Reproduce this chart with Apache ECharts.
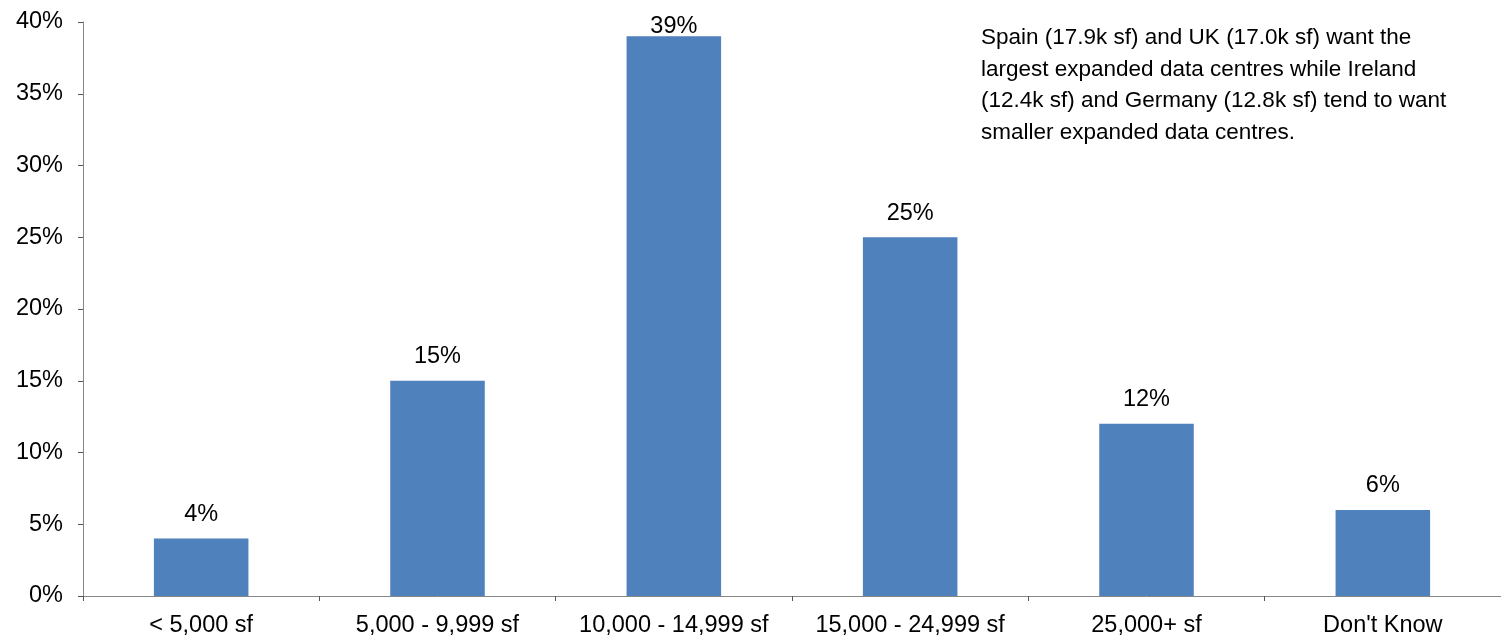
<!DOCTYPE html>
<html>
<head>
<meta charset="utf-8">
<script src="https://cdn.jsdelivr.net/npm/echarts@6/dist/echarts.min.js"></script>
<style>
  html, body { margin: 0; padding: 0; background: #fff; }
  #chart { width: 1501px; height: 635px; }
</style>
</head>
<body>
<div id="chart"></div>
<script>
const categories = ['< 5,000 sf', '5,000 - 9,999 sf', '10,000 - 14,999 sf', '15,000 - 24,999 sf', '25,000+ sf', "Don't Know"]
const shares = [4, 15, 39, 25, 12, 6]
const yTicks = [0, 5, 10, 15, 20, 25, 30, 35, 40]
const note = [
  'Spain (17.9k sf) and UK (17.0k sf) want the',
  'largest expanded data centres while Ireland',
  '(12.4k sf) and Germany (12.8k sf) tend to want',
  'smaller expanded data centres.',
]

const chart = echarts.init(document.getElementById('chart'))
const font = 'Liberation Sans, Arial, sans-serif'

const option = {
  animation: false,
  textStyle: { fontFamily: font },
  grid: { left: 83, right: 0, top: 22, bottom: 39, containLabel: false, outerBoundsMode: 'none' },
  xAxis: {
    type: 'category',
    data: categories,
    axisLine: { lineStyle: { color: '#868686', width: 1 } },
    axisTick: { show: true, interval: 0, length: 5, lineStyle: { color: '#555' } },
    axisLabel: { color: '#000', fontSize: 23.5, margin: 18, interval: 0, fontFamily: font },
  },
  yAxis: {
    type: 'value',
    min: yTicks[0],
    max: yTicks[yTicks.length - 1],
    interval: 5,
    splitLine: { show: false },
    axisLine: { show: true, lineStyle: { color: '#868686', width: 1 } },
    axisTick: { show: true, length: 5, lineStyle: { color: '#555' } },
    axisLabel: { color: '#000', fontSize: 23.5, margin: 20, fontFamily: font, formatter: '{value}%' },
  },
  series: [
    {
      type: 'bar',
      barWidth: '40%',
      itemStyle: { color: '#4F81BD' },
      label: {
        show: true,
        position: 'top',
        distance: 12,
        color: '#000',
        fontSize: 23.5,
        fontFamily: font,
        formatter: '{c}%',
      },
      data: shares.map((v, i) => (i === 2 ? { value: v, label: { distance: -2 } } : v)),
    },
  ],
  graphic: [
    {
      type: 'text',
      left: 981,
      top: 22,
      style: {
        text: note.join('\n'),
        fill: '#000',
        font: '22.5px ' + font,
        lineHeight: 31.7,
      },
    },
  ],
}

chart.setOption(option)
</script>
</body>
</html>
